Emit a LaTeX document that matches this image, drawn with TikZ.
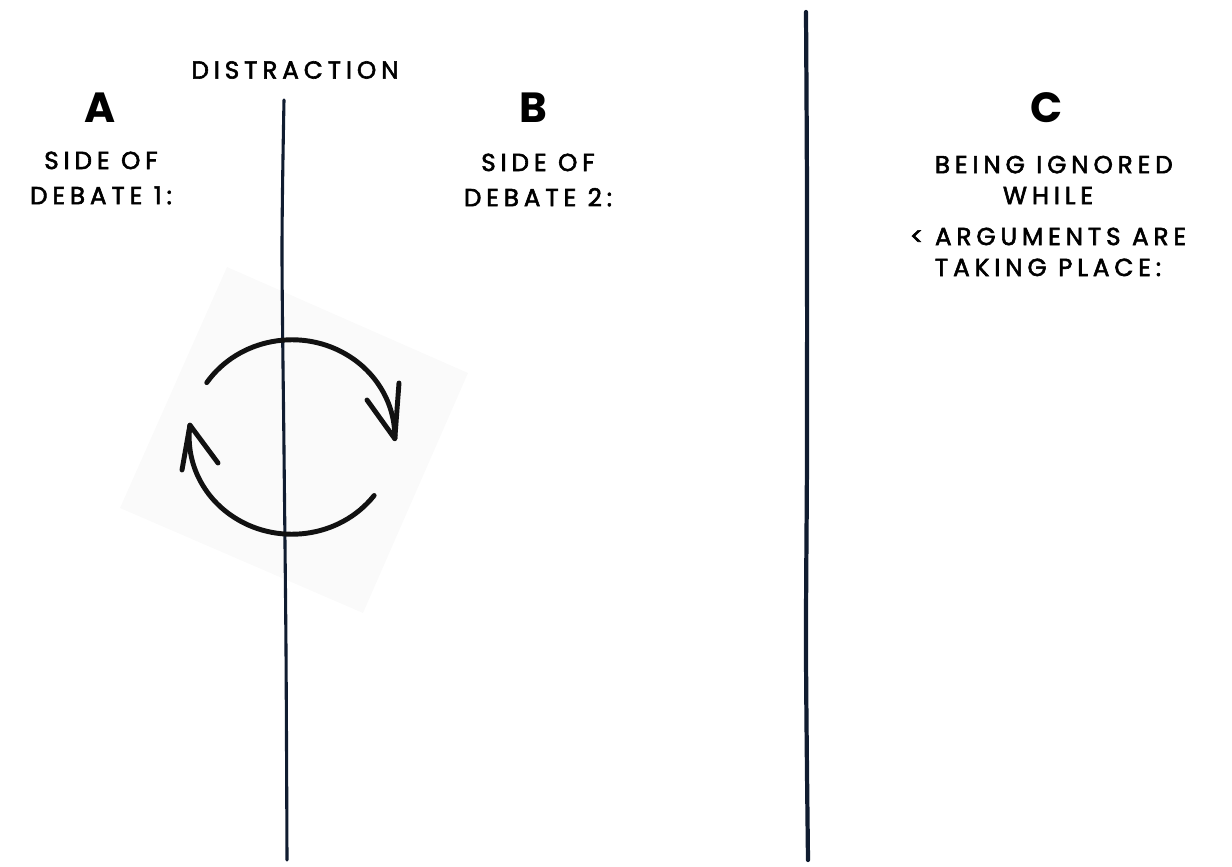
\documentclass[tikz,border=0pt]{standalone}
\usepackage{fontspec}
\newfontfamily\hand[LetterSpace=20,FakeBold=2.4]{Poppins}
\newfontfamily\handgras[LetterSpace=4]{Poppins}
\definecolor{encre}{HTML}{101C30}
\definecolor{fleche}{HTML}{111111}
\tikzset{
  titre/.style={font=\handgras\fontsize{30}{30}\selectfont\bfseries},
  texte/.style={font=\hand\fontsize{17.5}{25}\selectfont, align=center},
  trait/.style={encre, line cap=round},
  cycle/.style={fleche, line width=3.5pt, line cap=round, line join=round},
}
\begin{document}
\begin{tikzpicture}[x=0.025cm, y=-0.025cm]
        \useasboundingbox (0,0) rectangle (1232,867);

        % Fond du symbole
        \fill[black!2] (227,267) -- (468,373) -- (363,613) -- (120,508) -- cycle;

        % Les deux traits verticaux
        \draw[trait, line width=2.2pt] plot[smooth] coordinates {(284,100) (282,250) (284,450) (286,650) (287,860)};
        \draw[trait, line width=3pt] plot[smooth] coordinates {(806,12) (807,200) (807,450) (806,650) (808,860)};

        % Fleches circulaires
        \coordinate (centre) at (292,437);
        \draw[cycle] (centre) ++(146:2.57cm and 2.43cm) arc[start angle=146, end angle=-1, x radius=2.57cm, y radius=2.43cm] coordinate (pointe1);
        \draw[cycle] (399,383) -- (pointe1) -- (367,400);
        \draw[cycle] (centre) ++(-37:2.57cm and 2.43cm) arc[start angle=-37, end angle=-187, x radius=2.57cm, y radius=2.43cm] coordinate (pointe2);
        \draw[cycle] (182,470) -- (pointe2) -- (218,463);

        % Titres et textes
        \node[texte] (distraction) at (295,70) {DISTRACTION};
        \node[titre] (a) at (100,108) {A};
        \node[texte] (debat1) at (101,178) {SIDE OF\\DEBATE 1:};
        \node[titre] (b) at (533,108) {B};
        \node[texte] (debat2) at (538,180) {SIDE OF\\DEBATE 2:};
        \node[titre] (c) at (1047,108) {C};
        \node[texte, font=\hand\fontsize{17.5}{22}\selectfont] (ignore) at (1048,216)
          {\ BEING IGNORED\\WHILE\ \ \\[0.25cm]{<} ARGUMENTS ARE\\TAKING PLACE:};

    \end{tikzpicture}
\end{document}
